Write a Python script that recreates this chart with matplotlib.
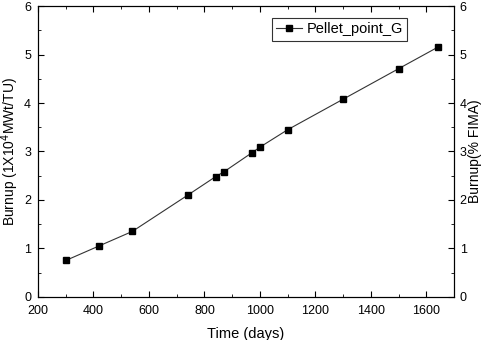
import matplotlib
matplotlib.use("Agg")
import matplotlib.pyplot as plt
from matplotlib.ticker import MultipleLocator

# data
time_days = [300, 420, 540, 740, 840, 870, 970, 1000, 1100, 1300, 1500, 1640]
burnup = [0.75, 1.05, 1.35, 2.10, 2.48, 2.58, 2.97, 3.09, 3.45, 4.08, 4.71, 5.15]

plt.rcParams['font.family'] = ['Liberation Sans', 'DejaVu Sans']

fig = plt.figure(figsize=(4.84, 3.40), dpi=100)
ax = fig.add_axes([0.0785, 0.127, 0.860, 0.855])

ax.plot(time_days, burnup, color='#333333', linewidth=0.8, marker='s',
        markersize=5, markerfacecolor='black', markeredgecolor='black',
        label='Pellet_point_G')

ax.set_xlim(200, 1700)
ax.set_ylim(0, 6)
ax.xaxis.set_major_locator(MultipleLocator(200))
ax.xaxis.set_minor_locator(MultipleLocator(100))
ax.yaxis.set_major_locator(MultipleLocator(1))
ax.yaxis.set_minor_locator(MultipleLocator(0.5))
ax.tick_params(which='both', direction='in', top=True, right=False, labelsize=9)
ax.tick_params(which='major', length=4)
ax.tick_params(which='minor', length=2.5)
ax.tick_params(axis='x', pad=6)
ax.tick_params(axis='y', pad=5)

ax.set_xlabel('Time (days)', fontsize=10.5, labelpad=7)
ax.set_ylabel('Burnup (1X10$^4$MWt/TU)', fontsize=10, labelpad=2)

# right axis, same scale
ax2 = ax.twinx()
ax2.set_ylim(0, 6)
ax2.yaxis.set_major_locator(MultipleLocator(1))
ax2.yaxis.set_minor_locator(MultipleLocator(0.5))
ax2.tick_params(which='both', direction='in', labelsize=9, pad=4)
ax2.tick_params(which='major', length=4)
ax2.tick_params(which='minor', length=2.5)
ax2.set_ylabel('Burnup(% FIMA)', fontsize=10, labelpad=1)

leg = ax.legend(loc='upper right', bbox_to_anchor=(0.905, 0.985), fontsize=10.5,
                frameon=True, fancybox=False, edgecolor='black',
                handlelength=1.8, borderpad=0.3, handletextpad=0.3)
leg.get_frame().set_linewidth(0.8)

fig.savefig('out.png', dpi=100)
